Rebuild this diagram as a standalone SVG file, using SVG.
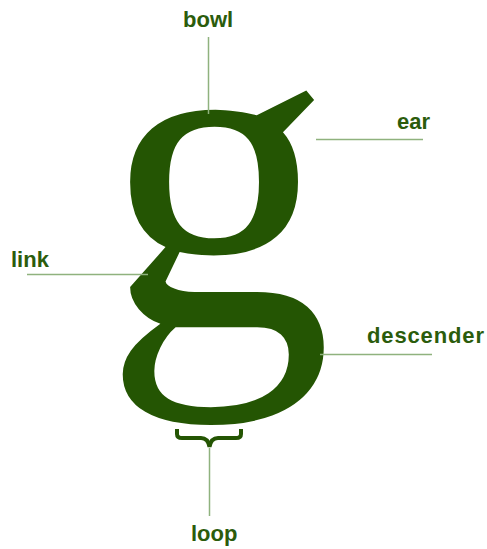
<svg xmlns="http://www.w3.org/2000/svg" width="487" height="549" viewBox="0 0 487 549">
<style>
.lbl{font-family:"Liberation Sans",Arial,sans-serif;font-weight:bold;font-size:22px;fill:#2b5c0c}
.ln{stroke:#8fb27e;stroke-width:1.5;fill:none}
.glyph{font-family:"Liberation Serif","Times New Roman",serif;fill:#245503}
</style>
<rect width="487" height="549" fill="#fff"/>
<g id="letter">
<text class="glyph" x="103" y="326" font-size="459">g</text>
</g>
<g id="connectors">
<line class="ln" x1="208.5" y1="37" x2="208.5" y2="114"/>
<line class="ln" x1="316" y1="139.5" x2="423" y2="139.5"/>
<line class="ln" x1="27" y1="274.5" x2="148" y2="274.5"/>
<line class="ln" x1="320" y1="354.5" x2="432" y2="354.5"/>
<line class="ln" x1="209.5" y1="448" x2="209.5" y2="516"/>
<path d="M177,429 V434 Q177,438 182,438 H201 Q208,438 209.5,447 Q211,438 218,438 H236 Q241,438 241,434 V429" fill="none" stroke="#245503" stroke-width="4"/>
</g>
<g id="bowl"><text class="lbl" x="183" y="27">bowl</text></g>
<g id="ear"><text class="lbl" x="397" y="129">ear</text></g>
<g id="link"><text class="lbl" x="11" y="267">link</text></g>
<g id="descender"><text class="lbl" x="367" y="343" textLength="117" lengthAdjust="spacing">descender</text></g>
<g id="loop"><text class="lbl" x="191" y="541">loop</text></g>
</svg>
